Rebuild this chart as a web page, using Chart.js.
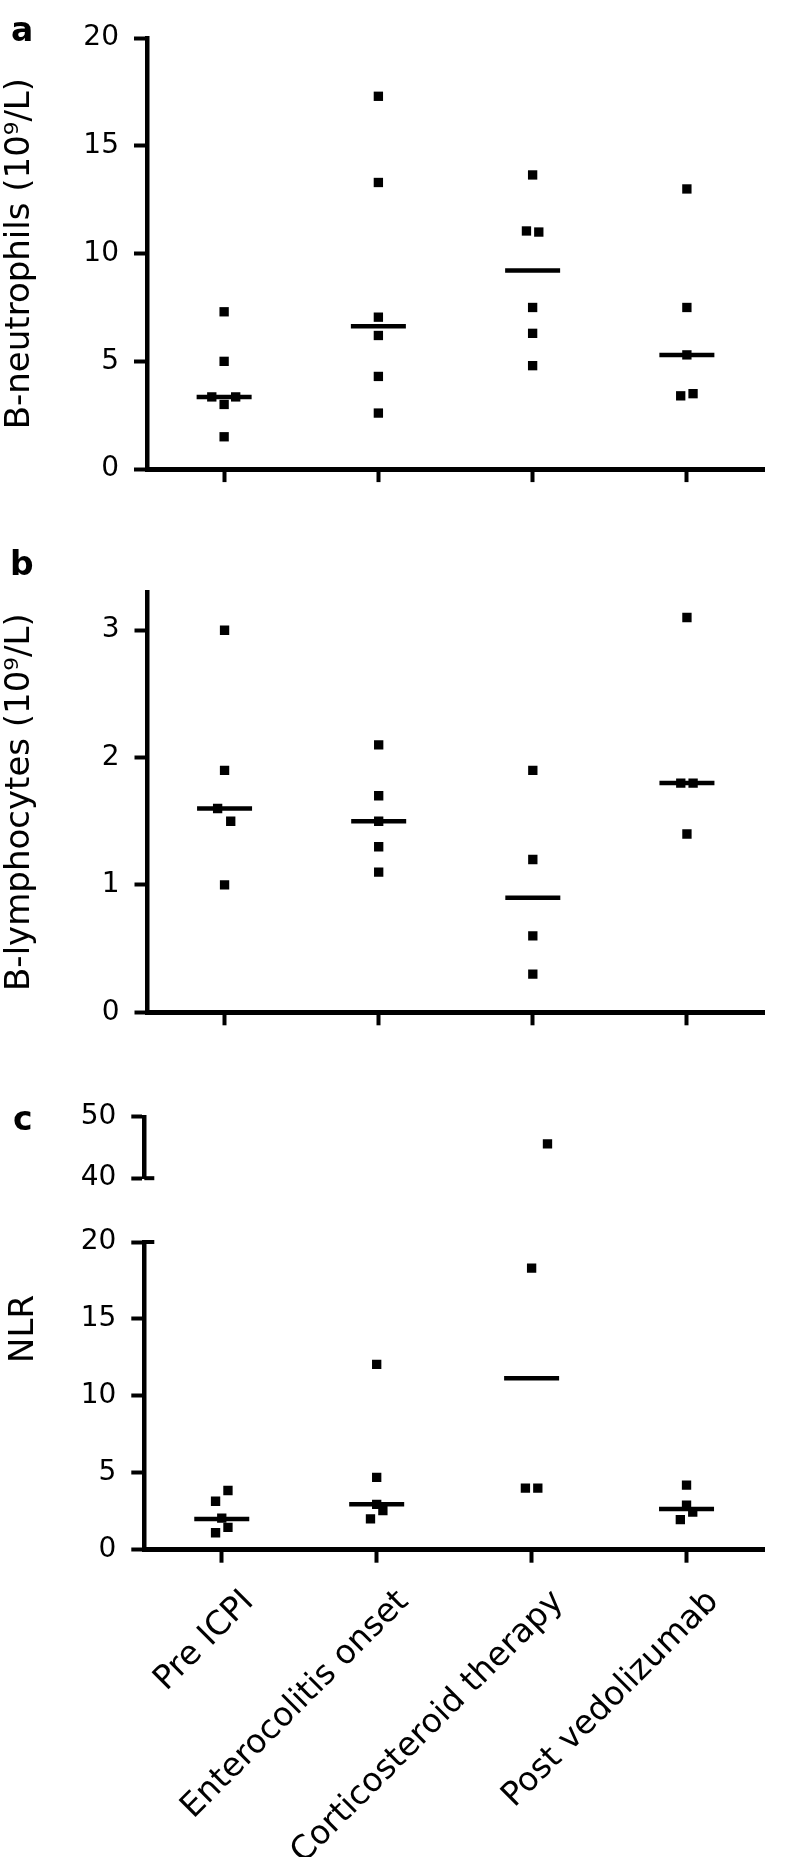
<!DOCTYPE html>
<html>
<head>
<meta charset="utf-8">
<script src="https://cdn.jsdelivr.net/npm/chart.js@4.4.0/dist/chart.umd.min.js"></script>
<style>
    html, body { margin: 0; padding: 0; background: #fff; }
    #page { position: relative; width: 796px; height: 1857px; overflow: hidden; background: #fff; }
    .box { position: absolute; left: 0; width: 796px; }
    .panel-letter { position: absolute; font: bold 33px "DejaVu Sans", sans-serif; line-height: 33px; color: #000; }
    #nlr-title { position: absolute; left: 21px; top: 1329px; transform: translate(-50%, -50%) rotate(-90deg);
                 font: 34px "DejaVu Sans", sans-serif; line-height: 40px; color: #000; white-space: nowrap; }
</style>
</head>
<body>
<div id="page">
    <div class="box" style="top:0;height:520px"><canvas id="chart-neutro" width="796" height="520"></canvas></div>
    <div class="box" style="top:560px;height:500px"><canvas id="chart-lympho" width="796" height="500"></canvas></div>
    <div class="box" style="top:1085px;height:125px"><canvas id="chart-nlr-top" width="796" height="125"></canvas></div>
    <div class="box" style="top:1210px;height:647px"><canvas id="chart-nlr" width="796" height="647"></canvas></div>
    <div class="panel-letter" style="left:11px;top:13px">a</div>
    <div class="panel-letter" style="left:10px;top:547px">b</div>
    <div class="panel-letter" style="left:13px;top:1102px">c</div>
    <div id="nlr-title">NLR</div>
</div>
<script>
// categories (x axis)
const categories = ['Pre ICPI', 'Enterocolitis onset', 'Corticosteroid therapy', 'Post vedolizumab'];

// a: B-neutrophils (10^9/L)
const neutroValues = [
    [7.3, 5.0, 3.35, 3.35, 3.0, 1.5],
    [17.3, 13.3, 7.05, 6.2, 4.3, 2.6],
    [13.65, 11.05, 11.0, 7.5, 6.3, 4.8],
    [13.0, 7.5, 5.3, 3.4, 3.5]
];
const neutroJitter = [
    [0, 0, -0.08, 0.075, 0, 0],
    [0, 0, 0, 0, 0, 0],
    [0, -0.04, 0.04, 0, 0, 0],
    [0, 0, 0, -0.04, 0.04]
];
const neutroMedians = [3.35, 6.63, 9.22, 5.3];
const neutroTicks = [0, 5, 10, 15, 20];

// b: B-lymphocytes (10^9/L)
const lymphoValues = [
    [3.0, 1.9, 1.6, 1.5, 1.0],
    [2.1, 1.7, 1.5, 1.3, 1.1],
    [1.9, 1.2, 0.6, 0.3],
    [3.1, 1.8, 1.8, 1.4]
];
const lymphoJitter = [
    [0, 0, -0.045, 0.04, 0],
    [0, 0, 0, 0, 0],
    [0, 0, 0, 0],
    [0, -0.04, 0.04, 0]
];
const lymphoMedians = [1.6, 1.5, 0.9, 1.8];
const lymphoTicks = [0, 1, 2, 3];

// c: NLR (broken axis 0-20 / 40-50)
const nlrValues = [
    [3.85, 3.15, 2.05, 1.45, 1.1],
    [12.05, 4.7, 2.95, 2.55, 2.0],
    [45.6, 18.3, 4.0, 4.0],
    [4.2, 2.9, 2.45, 1.95]
];
const nlrJitter = [
    [0.04, -0.04, 0, 0.04, -0.04],
    [0, 0, 0, 0.04, -0.04],
    [0, 0, -0.04, 0.04],
    [0, 0, 0.04, -0.04]
];
const nlrMedians = [2.0, 2.95, 11.15, 2.65];
const nlrTicksLow = [0, 5, 10, 15, 20];
const nlrTicksHigh = [40, 50];

Chart.defaults.font.family = "'DejaVu Sans', sans-serif";
Chart.defaults.color = '#000';

const BLACK = '#000';

// flatten groups into {x, y} points, keeping only values inside [lo, hi]
function toPoints(values, jitter, lo, hi) {
    const pts = [];
    values.forEach((group, i) => {
        group.forEach((v, j) => {
            if (v >= lo && v <= hi) pts.push({ x: i + jitter[i][j], y: v });
        });
    });
    return pts;
}

function toMedians(medians, lo, hi) {
    return medians.map((m, i) => ({ x: i, y: m })).filter(p => p.y >= lo && p.y <= hi);
}

// short tick crossing the y axis to the right (axis break marks)
const breakMarks = {
    id: 'breakMarks',
    afterDraw(chart, args, opts) {
        if (!opts.values || !opts.values.length) return;
        const { ctx, chartArea } = chart;
        const yScale = chart.scales.y;
        ctx.save();
        ctx.strokeStyle = BLACK;
        ctx.lineWidth = 4;
        opts.values.forEach(v => {
            const py = yScale.getPixelForValue(v);
            ctx.beginPath();
            ctx.moveTo(chartArea.left, py);
            ctx.lineTo(chartArea.left + opts.length, py);
            ctx.stroke();
        });
        ctx.restore();
    }
};

function buildChart(id, cfg) {
    const lo = cfg.yMin, hi = cfg.yMax;
    const datasets = [
        {
            data: toPoints(cfg.values, cfg.jitter, lo, hi),
            pointStyle: 'rect',
            pointRadius: 6.6,
            backgroundColor: BLACK,
            borderWidth: 0
        },
        {
            data: toMedians(cfg.medians, lo, hi),
            pointStyle: 'line',
            pointRadius: 27.5,
            borderColor: BLACK,
            borderWidth: 4.5
        }
    ];

    return new Chart(document.getElementById(id), {
        type: 'scatter',
        data: { datasets },
        plugins: [breakMarks],
        options: {
            responsive: false,
            animation: false,
            events: [],
            devicePixelRatio: 1,
            layout: { padding: cfg.padding },
            plugins: {
                legend: { display: false },
                tooltip: { enabled: false },
                breakMarks: { values: cfg.breaks || [], length: 10 }
            },
            scales: {
                x: {
                    type: 'linear',
                    display: cfg.showX,
                    min: -0.5,
                    max: categories.length - 0.5,
                    afterBuildTicks: axis => { axis.ticks = categories.map((c, i) => ({ value: i })); },
                    afterFit: scale => { scale.height = cfg.xHeight; },
                    grid: { drawOnChartArea: false, tickLength: 13, tickWidth: 4, tickColor: BLACK },
                    border: { display: true, color: BLACK, width: 5 },
                    ticks: {
                        display: cfg.showLabels,
                        autoSkip: false,
                        minRotation: 45,
                        maxRotation: 45,
                        padding: 20,
                        labelOffset: 27,
                        font: { size: 33 },
                        callback: v => categories[v]
                    }
                },
                y: {
                    type: 'linear',
                    min: lo,
                    max: hi,
                    afterBuildTicks: axis => { axis.ticks = cfg.yTicks.map(v => ({ value: v })); },
                    afterFit: scale => { scale.width = cfg.axisLeft; },
                    grid: { drawOnChartArea: false, tickLength: 13, tickWidth: 4, tickColor: BLACK },
                    border: { display: true, color: BLACK, width: 4.5 },
                    ticks: { padding: 15, font: { size: 28 } },
                    title: {
                        display: !!cfg.yTitle,
                        text: cfg.yTitle || '',
                        font: { size: 34 },
                        padding: { top: 0, bottom: 0 }
                    }
                }
            }
        }
    });
}

buildChart('chart-neutro', {
    values: neutroValues, jitter: neutroJitter, medians: neutroMedians,
    yMin: 0, yMax: 20, yTicks: neutroTicks, yTitle: 'B-neutrophils (10\u2079/L)',
    axisLeft: 147, xHeight: 50.9, showX: true, showLabels: false,
    padding: { top: 38.1, right: 3, left: 0, bottom: 0 }
});

buildChart('chart-lympho', {
    values: lymphoValues, jitter: lymphoJitter, medians: lymphoMedians,
    yMin: 0, yMax: 3.3, yTicks: lymphoTicks, yTitle: 'B-lymphocytes (10\u2079/L)',
    axisLeft: 147.5, xHeight: 47.7, showX: true, showLabels: false,
    padding: { top: 22.7, right: 3, left: 0, bottom: 0 }
});

buildChart('chart-nlr-top', {
    values: nlrValues, jitter: nlrJitter, medians: nlrMedians,
    yMin: 40, yMax: 50, yTicks: nlrTicksHigh, yTitle: '',
    axisLeft: 144.3, xHeight: 0, showX: false, showLabels: false, breaks: [40],
    padding: { top: 31, right: 1, left: 0, bottom: 14.7 }
});

buildChart('chart-nlr', {
    values: nlrValues, jitter: nlrJitter, medians: nlrMedians,
    yMin: 0, yMax: 20, yTicks: nlrTicksLow, yTitle: '',
    axisLeft: 144.3, xHeight: 307.3, showX: true, showLabels: true, breaks: [20],
    padding: { top: 22.7, right: 1, left: 0, bottom: 0 }
});
</script>
</body>
</html>
